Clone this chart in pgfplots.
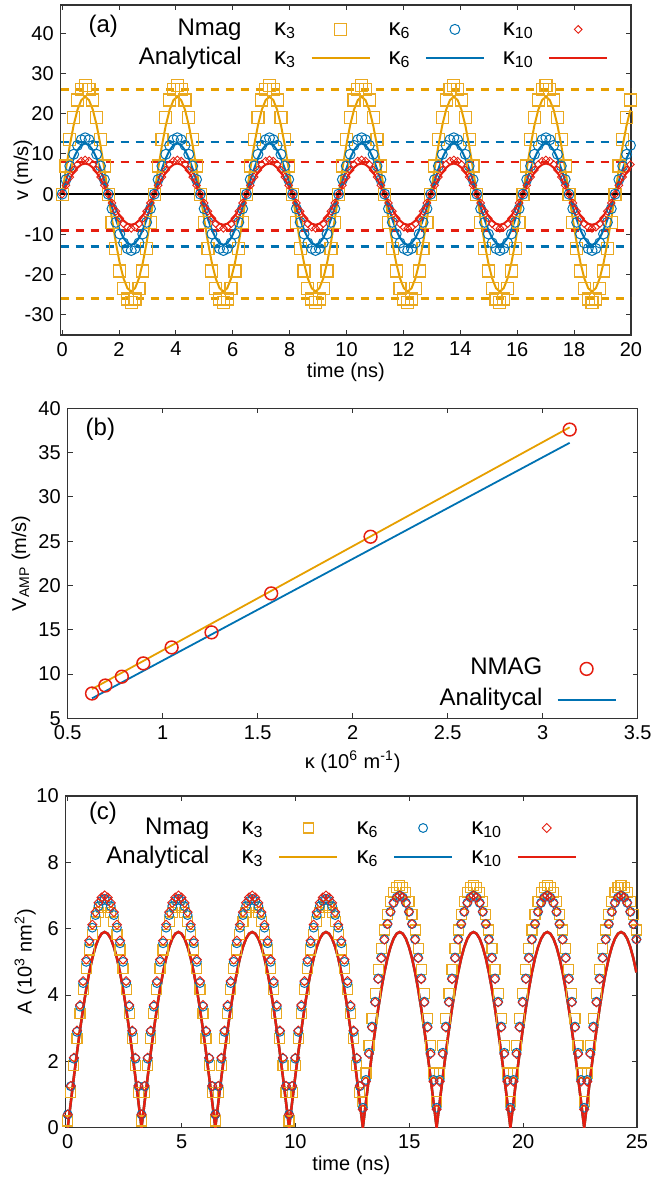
\documentclass[border=0pt]{standalone}
\usepackage{fontspec}
\setmainfont{Liberation Sans}
\usepackage{pgfplots}
\pgfplotsset{compat=1.18}
\usepackage{pgfplotstable}

\definecolor{gorange}{HTML}{E69F00}
\definecolor{gblue}{HTML}{0072B2}
\definecolor{gred}{HTML}{E51E10}
\definecolor{lorange}{HTML}{EAA920}

% panel (a): t, Nmag k3 k6 k10, analytical k3 k6 k10
\pgfplotstableread{
t m3 m6 m10 a3 a6 a10
0 0 0 0 0 0 0
0.135 6.99 3.62 2.2 6.26 3.26 1.97
0.27 13.5 7 4.25 12.1 6.3 3.8
0.405 19.09 9.9 6.01 17.11 8.91 5.37
0.54 23.38 12.12 7.36 20.96 10.91 6.58
0.675 26.08 13.52 8.21 23.37 12.17 7.34
0.81 27 14 8.5 24.2 12.6 7.6
0.945 26.08 13.52 8.21 23.37 12.17 7.34
1.08 23.38 12.12 7.36 20.96 10.91 6.58
1.215 19.09 9.9 6.01 17.11 8.91 5.37
1.35 13.5 7 4.25 12.1 6.3 3.8
1.485 6.99 3.62 2.2 6.26 3.26 1.97
1.62 0 0 0 0 0 0
1.755 -6.99 -3.62 -2.2 -6.26 -3.26 -1.97
1.89 -13.5 -7 -4.25 -12.1 -6.3 -3.8
2.025 -19.09 -9.9 -6.01 -17.11 -8.91 -5.37
2.16 -23.38 -12.12 -7.36 -20.96 -10.91 -6.58
2.295 -26.08 -13.52 -8.21 -23.37 -12.17 -7.34
2.43 -27 -14 -8.5 -24.2 -12.6 -7.6
2.565 -26.08 -13.52 -8.21 -23.37 -12.17 -7.34
2.7 -23.38 -12.12 -7.36 -20.96 -10.91 -6.58
2.835 -19.09 -9.9 -6.01 -17.11 -8.91 -5.37
2.97 -13.5 -7 -4.25 -12.1 -6.3 -3.8
3.105 -6.99 -3.62 -2.2 -6.26 -3.26 -1.97
3.24 0 0 0 0 0 0
3.375 6.99 3.62 2.2 6.26 3.26 1.97
3.51 13.5 7 4.25 12.1 6.3 3.8
3.645 19.09 9.9 6.01 17.11 8.91 5.37
3.78 23.38 12.12 7.36 20.96 10.91 6.58
3.915 26.08 13.52 8.21 23.37 12.17 7.34
4.05 27 14 8.5 24.2 12.6 7.6
4.185 26.08 13.52 8.21 23.37 12.17 7.34
4.32 23.38 12.12 7.36 20.96 10.91 6.58
4.455 19.09 9.9 6.01 17.11 8.91 5.37
4.59 13.5 7 4.25 12.1 6.3 3.8
4.725 6.99 3.62 2.2 6.26 3.26 1.97
4.86 0 0 0 0 0 0
4.995 -6.99 -3.62 -2.2 -6.26 -3.26 -1.97
5.13 -13.5 -7 -4.25 -12.1 -6.3 -3.8
5.265 -19.09 -9.9 -6.01 -17.11 -8.91 -5.37
5.4 -23.38 -12.12 -7.36 -20.96 -10.91 -6.58
5.535 -26.08 -13.52 -8.21 -23.37 -12.17 -7.34
5.67 -27 -14 -8.5 -24.2 -12.6 -7.6
5.805 -26.08 -13.52 -8.21 -23.37 -12.17 -7.34
5.94 -23.38 -12.12 -7.36 -20.96 -10.91 -6.58
6.075 -19.09 -9.9 -6.01 -17.11 -8.91 -5.37
6.21 -13.5 -7 -4.25 -12.1 -6.3 -3.8
6.345 -6.99 -3.62 -2.2 -6.26 -3.26 -1.97
6.48 0 0 0 0 0 0
6.615 6.99 3.62 2.2 6.26 3.26 1.97
6.75 13.5 7 4.25 12.1 6.3 3.8
6.885 19.09 9.9 6.01 17.11 8.91 5.37
7.02 23.38 12.12 7.36 20.96 10.91 6.58
7.155 26.08 13.52 8.21 23.37 12.17 7.34
7.29 27 14 8.5 24.2 12.6 7.6
7.425 26.08 13.52 8.21 23.37 12.17 7.34
7.56 23.38 12.12 7.36 20.96 10.91 6.58
7.695 19.09 9.9 6.01 17.11 8.91 5.37
7.83 13.5 7 4.25 12.1 6.3 3.8
7.965 6.99 3.62 2.2 6.26 3.26 1.97
8.1 0 0 0 0 0 0
8.235 -6.99 -3.62 -2.2 -6.26 -3.26 -1.97
8.37 -13.5 -7 -4.25 -12.1 -6.3 -3.8
8.505 -19.09 -9.9 -6.01 -17.11 -8.91 -5.37
8.64 -23.38 -12.12 -7.36 -20.96 -10.91 -6.58
8.775 -26.08 -13.52 -8.21 -23.37 -12.17 -7.34
8.91 -27 -14 -8.5 -24.2 -12.6 -7.6
9.045 -26.08 -13.52 -8.21 -23.37 -12.17 -7.34
9.18 -23.38 -12.12 -7.36 -20.96 -10.91 -6.58
9.315 -19.09 -9.9 -6.01 -17.11 -8.91 -5.37
9.45 -13.5 -7 -4.25 -12.1 -6.3 -3.8
9.585 -6.99 -3.62 -2.2 -6.26 -3.26 -1.97
9.72 0 0 0 0 0 0
9.855 6.99 3.62 2.2 6.26 3.26 1.97
9.99 13.5 7 4.25 12.1 6.3 3.8
10.125 19.09 9.9 6.01 17.11 8.91 5.37
10.26 23.38 12.12 7.36 20.96 10.91 6.58
10.395 26.08 13.52 8.21 23.37 12.17 7.34
10.53 27 14 8.5 24.2 12.6 7.6
10.665 26.08 13.52 8.21 23.37 12.17 7.34
10.8 23.38 12.12 7.36 20.96 10.91 6.58
10.935 19.09 9.9 6.01 17.11 8.91 5.37
11.07 13.5 7 4.25 12.1 6.3 3.8
11.205 6.99 3.62 2.2 6.26 3.26 1.97
11.34 0 0 0 0 0 0
11.475 -6.99 -3.62 -2.2 -6.26 -3.26 -1.97
11.61 -13.5 -7 -4.25 -12.1 -6.3 -3.8
11.745 -19.09 -9.9 -6.01 -17.11 -8.91 -5.37
11.88 -23.38 -12.12 -7.36 -20.96 -10.91 -6.58
12.015 -26.08 -13.52 -8.21 -23.37 -12.17 -7.34
12.15 -27 -14 -8.5 -24.2 -12.6 -7.6
12.285 -26.08 -13.52 -8.21 -23.37 -12.17 -7.34
12.42 -23.38 -12.12 -7.36 -20.96 -10.91 -6.58
12.555 -19.09 -9.9 -6.01 -17.11 -8.91 -5.37
12.69 -13.5 -7 -4.25 -12.1 -6.3 -3.8
12.825 -6.99 -3.62 -2.2 -6.26 -3.26 -1.97
12.96 0 0 0 0 0 0
13.095 6.99 3.62 2.2 6.26 3.26 1.97
13.23 13.5 7 4.25 12.1 6.3 3.8
13.365 19.09 9.9 6.01 17.11 8.91 5.37
13.5 23.38 12.12 7.36 20.96 10.91 6.58
13.635 26.08 13.52 8.21 23.37 12.17 7.34
13.77 27 14 8.5 24.2 12.6 7.6
13.905 26.08 13.52 8.21 23.37 12.17 7.34
14.04 23.38 12.12 7.36 20.96 10.91 6.58
14.175 19.09 9.9 6.01 17.11 8.91 5.37
14.31 13.5 7 4.25 12.1 6.3 3.8
14.445 6.99 3.62 2.2 6.26 3.26 1.97
14.58 0 0 0 0 0 0
14.715 -6.99 -3.62 -2.2 -6.26 -3.26 -1.97
14.85 -13.5 -7 -4.25 -12.1 -6.3 -3.8
14.985 -19.09 -9.9 -6.01 -17.11 -8.91 -5.37
15.12 -23.38 -12.12 -7.36 -20.96 -10.91 -6.58
15.255 -26.08 -13.52 -8.21 -23.37 -12.17 -7.34
15.39 -27 -14 -8.5 -24.2 -12.6 -7.6
15.525 -26.08 -13.52 -8.21 -23.37 -12.17 -7.34
15.66 -23.38 -12.12 -7.36 -20.96 -10.91 -6.58
15.795 -19.09 -9.9 -6.01 -17.11 -8.91 -5.37
15.93 -13.5 -7 -4.25 -12.1 -6.3 -3.8
16.065 -6.99 -3.62 -2.2 -6.26 -3.26 -1.97
16.2 0 0 0 0 0 0
16.335 6.99 3.62 2.2 6.26 3.26 1.97
16.47 13.5 7 4.25 12.1 6.3 3.8
16.605 19.09 9.9 6.01 17.11 8.91 5.37
16.74 23.38 12.12 7.36 20.96 10.91 6.58
16.875 26.08 13.52 8.21 23.37 12.17 7.34
17.01 27 14 8.5 24.2 12.6 7.6
17.145 26.08 13.52 8.21 23.37 12.17 7.34
17.28 23.38 12.12 7.36 20.96 10.91 6.58
17.415 19.09 9.9 6.01 17.11 8.91 5.37
17.55 13.5 7 4.25 12.1 6.3 3.8
17.685 6.99 3.62 2.2 6.26 3.26 1.97
17.82 0 0 0 0 0 0
17.955 -6.99 -3.62 -2.2 -6.26 -3.26 -1.97
18.09 -13.5 -7 -4.25 -12.1 -6.3 -3.8
18.225 -19.09 -9.9 -6.01 -17.11 -8.91 -5.37
18.36 -23.38 -12.12 -7.36 -20.96 -10.91 -6.58
18.495 -26.08 -13.52 -8.21 -23.37 -12.17 -7.34
18.63 -27 -14 -8.5 -24.2 -12.6 -7.6
18.765 -26.08 -13.52 -8.21 -23.37 -12.17 -7.34
18.9 -23.38 -12.12 -7.36 -20.96 -10.91 -6.58
19.035 -19.09 -9.9 -6.01 -17.11 -8.91 -5.37
19.17 -13.5 -7 -4.25 -12.1 -6.3 -3.8
19.305 -6.99 -3.62 -2.2 -6.26 -3.26 -1.97
19.44 0 0 0 0 0 0
19.575 6.99 3.62 2.2 6.26 3.26 1.97
19.71 13.5 7 4.25 12.1 6.3 3.8
19.845 19.09 9.9 6.01 17.11 8.91 5.37
19.98 23.38 12.12 7.36 20.96 10.91 6.58
}\tabA

% panel (c): t, Nmag k3 k6 k10, analytical
\pgfplotstableread{
t c3 c6 c10 an
0 0.2 0.4 0.4 0
0.135 1.05 1.25 1.26 0.77
0.27 1.88 2.08 2.11 1.53
0.405 2.69 2.89 2.93 2.26
0.54 3.45 3.65 3.7 2.95
0.675 4.16 4.36 4.42 3.59
0.81 4.8 5 5.07 4.17
0.945 5.36 5.56 5.64 4.68
1.08 5.83 6.03 6.12 5.11
1.215 6.21 6.41 6.5 5.45
1.35 6.48 6.68 6.78 5.7
1.485 6.64 6.84 6.94 5.85
1.62 6.7 6.9 7 5.9
1.755 6.64 6.84 6.94 5.85
1.89 6.48 6.68 6.78 5.7
2.025 6.21 6.41 6.5 5.45
2.16 5.83 6.03 6.12 5.11
2.295 5.36 5.56 5.64 4.68
2.43 4.8 5 5.07 4.17
2.565 4.16 4.36 4.42 3.59
2.7 3.45 3.65 3.7 2.95
2.835 2.69 2.89 2.93 2.26
2.97 1.88 2.08 2.11 1.53
3.105 1.05 1.25 1.26 0.77
3.24 0.2 0.4 0.4 0
3.375 1.05 1.25 1.26 0.77
3.51 1.88 2.08 2.11 1.53
3.645 2.69 2.89 2.93 2.26
3.78 3.45 3.65 3.7 2.95
3.915 4.16 4.36 4.42 3.59
4.05 4.8 5 5.07 4.17
4.185 5.36 5.56 5.64 4.68
4.32 5.83 6.03 6.12 5.11
4.455 6.21 6.41 6.5 5.45
4.59 6.48 6.68 6.78 5.7
4.725 6.64 6.84 6.94 5.85
4.86 6.7 6.9 7 5.9
4.995 6.64 6.84 6.94 5.85
5.13 6.48 6.68 6.78 5.7
5.265 6.21 6.41 6.5 5.45
5.4 5.83 6.03 6.12 5.11
5.535 5.36 5.56 5.64 4.68
5.67 4.8 5 5.07 4.17
5.805 4.16 4.36 4.42 3.59
5.94 3.45 3.65 3.7 2.95
6.075 2.69 2.89 2.93 2.26
6.21 1.88 2.08 2.11 1.53
6.345 1.05 1.25 1.26 0.77
6.48 0.2 0.4 0.4 0
6.615 1.05 1.25 1.26 0.77
6.75 1.88 2.08 2.11 1.53
6.885 2.69 2.89 2.93 2.26
7.02 3.45 3.65 3.7 2.95
7.155 4.16 4.36 4.42 3.59
7.29 4.8 5 5.07 4.17
7.425 5.36 5.56 5.64 4.68
7.56 5.83 6.03 6.12 5.11
7.695 6.21 6.41 6.5 5.45
7.83 6.48 6.68 6.78 5.7
7.965 6.64 6.84 6.94 5.85
8.1 6.7 6.9 7 5.9
8.235 6.64 6.84 6.94 5.85
8.37 6.48 6.68 6.78 5.7
8.505 6.21 6.41 6.5 5.45
8.64 5.83 6.03 6.12 5.11
8.775 5.36 5.56 5.64 4.68
8.91 4.8 5 5.07 4.17
9.045 4.16 4.36 4.42 3.59
9.18 3.45 3.65 3.7 2.95
9.315 2.69 2.89 2.93 2.26
9.45 1.88 2.08 2.11 1.53
9.585 1.05 1.25 1.26 0.77
9.72 0.2 0.4 0.4 0
9.855 1.05 1.25 1.26 0.77
9.99 1.88 2.08 2.11 1.53
10.125 2.69 2.89 2.93 2.26
10.26 3.45 3.65 3.7 2.95
10.395 4.16 4.36 4.42 3.59
10.53 4.8 5 5.07 4.17
10.665 5.36 5.56 5.64 4.68
10.8 5.83 6.03 6.12 5.11
10.935 6.21 6.41 6.5 5.45
11.07 6.48 6.68 6.78 5.7
11.205 6.64 6.84 6.94 5.85
11.34 6.7 6.9 7 5.9
11.475 6.64 6.84 6.94 5.85
11.61 6.48 6.68 6.78 5.7
11.745 6.21 6.41 6.5 5.45
11.88 5.83 6.03 6.12 5.11
12.015 5.36 5.56 5.64 4.68
12.15 4.8 5 5.07 4.17
12.285 4.16 4.36 4.42 3.59
12.42 3.45 3.65 3.7 2.95
12.555 2.69 2.89 2.93 2.26
12.69 1.88 2.08 2.11 1.53
12.825 1.05 1.25 1.26 0.77
12.96 0.8 0.6 0.55 0
13.095 1.65 1.44 1.39 0.77
13.23 2.48 2.26 2.22 1.53
13.365 3.29 3.05 3.02 2.26
13.5 4.05 3.8 3.78 2.95
13.635 4.76 4.5 4.48 3.59
13.77 5.4 5.13 5.11 4.17
13.905 5.96 5.68 5.67 4.68
14.04 6.43 6.14 6.14 5.11
14.175 6.81 6.51 6.51 5.45
14.31 7.08 6.78 6.78 5.7
14.445 7.24 6.94 6.94 5.85
14.58 7.3 7 7 5.9
14.715 7.24 6.94 6.94 5.85
14.85 7.08 6.78 6.78 5.7
14.985 6.81 6.51 6.51 5.45
15.12 6.43 6.14 6.14 5.11
15.255 5.96 5.68 5.67 4.68
15.39 5.4 5.13 5.11 4.17
15.525 4.76 4.5 4.48 3.59
15.66 4.05 3.8 3.78 2.95
15.795 3.29 3.05 3.02 2.26
15.93 2.48 2.26 2.22 1.53
16.065 1.65 1.44 1.39 0.77
16.2 0.8 0.6 0.55 0
16.335 1.65 1.44 1.39 0.77
16.47 2.48 2.26 2.22 1.53
16.605 3.29 3.05 3.02 2.26
16.74 4.05 3.8 3.78 2.95
16.875 4.76 4.5 4.48 3.59
17.01 5.4 5.13 5.11 4.17
17.145 5.96 5.68 5.67 4.68
17.28 6.43 6.14 6.14 5.11
17.415 6.81 6.51 6.51 5.45
17.55 7.08 6.78 6.78 5.7
17.685 7.24 6.94 6.94 5.85
17.82 7.3 7 7 5.9
17.955 7.24 6.94 6.94 5.85
18.09 7.08 6.78 6.78 5.7
18.225 6.81 6.51 6.51 5.45
18.36 6.43 6.14 6.14 5.11
18.495 5.96 5.68 5.67 4.68
18.63 5.4 5.13 5.11 4.17
18.765 4.76 4.5 4.48 3.59
18.9 4.05 3.8 3.78 2.95
19.035 3.29 3.05 3.02 2.26
19.17 2.48 2.26 2.22 1.53
19.305 1.65 1.44 1.39 0.77
19.44 0.8 0.6 0.55 0
19.575 1.65 1.44 1.39 0.77
19.71 2.48 2.26 2.22 1.53
19.845 3.29 3.05 3.02 2.26
19.98 4.05 3.8 3.78 2.95
20.115 4.76 4.5 4.48 3.59
20.25 5.4 5.13 5.11 4.17
20.385 5.96 5.68 5.67 4.68
20.52 6.43 6.14 6.14 5.11
20.655 6.81 6.51 6.51 5.45
20.79 7.08 6.78 6.78 5.7
20.925 7.24 6.94 6.94 5.85
21.06 7.3 7 7 5.9
21.195 7.24 6.94 6.94 5.85
21.33 7.08 6.78 6.78 5.7
21.465 6.81 6.51 6.51 5.45
21.6 6.43 6.14 6.14 5.11
21.735 5.96 5.68 5.67 4.68
21.87 5.4 5.13 5.11 4.17
22.005 4.76 4.5 4.48 3.59
22.14 4.05 3.8 3.78 2.95
22.275 3.29 3.05 3.02 2.26
22.41 2.48 2.26 2.22 1.53
22.545 1.65 1.44 1.39 0.77
22.68 0.8 0.6 0.55 0
22.815 1.65 1.44 1.39 0.77
22.95 2.48 2.26 2.22 1.53
23.085 3.29 3.05 3.02 2.26
23.22 4.05 3.8 3.78 2.95
23.355 4.76 4.5 4.48 3.59
23.49 5.4 5.13 5.11 4.17
23.625 5.96 5.68 5.67 4.68
23.76 6.43 6.14 6.14 5.11
23.895 6.81 6.51 6.51 5.45
24.03 7.08 6.78 6.78 5.7
24.165 7.24 6.94 6.94 5.85
24.3 7.3 7 7 5.9
24.435 7.24 6.94 6.94 5.85
24.57 7.08 6.78 6.78 5.7
24.705 6.81 6.51 6.51 5.45
24.84 6.43 6.14 6.14 5.11
24.975 5.96 5.68 5.67 4.68
}\tabC

\pgfplotsset{
  gp/.style={
    scale only axis, anchor=south west,
    axis line style={black!80, line width=0.6pt},
    tick style={black!80, line width=0.5pt},
    major tick length=2.5pt,
    tick align=inside, tick pos=both,
    ticklabel style={font=\fontsize{10}{12}\selectfont},
    label style={font=\fontsize{10}{12}\selectfont},
    /pgf/number format/assume math mode=true,
    legend plot pos=right,
    legend image code/.code={\draw[mark repeat=2,mark phase=2,##1] plot coordinates {(0pt,0pt) (14.5pt,0pt) (29pt,0pt)};},
  },
  kleg/.style={
    legend columns=4, legend cell align=right,
    legend style={draw=none, fill=none, inner xsep=0pt, inner ysep=0pt,
      font=\fontsize{12}{14}\selectfont,
      nodes={inner sep=0pt, text height=9pt, text depth=3pt},
      row sep=2.5pt,
      /tikz/every odd column/.append style={column sep=7.25pt},
      /tikz/every even column/.append style={column sep=9pt},
      /tikz/column 2/.append style={column sep=11pt}},
  },
  dashamp/.style={forget plot, line width=1.3pt, dash pattern=on 4pt off 3.5pt},
  sqmark/.style={only marks, mark=square, lorange, line width=0.6pt, mark options={draw=lorange, fill=none}},
}

\begin{document}
\begin{tikzpicture}[font=\fontsize{10}{12}\selectfont]
\path[use as bounding box] (0,0) rectangle (328pt,590pt);

% ---------------- (a)
\begin{axis}[gp, at={(30.35pt,422.5pt)}, width=285.15pt, height=165pt,
  xmin=-0.05, xmax=20, ymin=-35, ymax=47,
  xtick={0,2,...,20}, ytick={-30,-20,...,40},
  xlabel={time (ns)}, ylabel={v (m/s)},
  xlabel style={at={(axis description cs:0.5,-0.114)}, anchor=center},
  ylabel style={at={(axis description cs:-0.066,0.5)}, anchor=center},
  kleg, legend style={at={(1,1)}, anchor=north east, xshift=-11.2pt, yshift=-6pt}]
\addlegendimage{empty legend}
\addlegendimage{sqmark, mark size=3pt}
\addlegendimage{only marks, mark=o, mark size=2.5pt, gblue, line width=0.5pt}
\addlegendimage{only marks, mark=square, mark size=1.35pt, mark options={rotate=45}, gred, line width=0.45pt}
\addlegendimage{empty legend}
\addlegendimage{gorange, line width=1pt}
\addlegendimage{gblue, line width=1pt}
\addlegendimage{gred, line width=1pt}
\addplot[dashamp, gorange] coordinates {(-0.05,26) (20,26)};
\addplot[dashamp, gorange] coordinates {(-0.05,-26) (20,-26)};
\addplot[dashamp, gblue] coordinates {(-0.05,13) (20,13)};
\addplot[dashamp, gblue] coordinates {(-0.05,-13) (20,-13)};
\addplot[dashamp, gred] coordinates {(-0.05,8) (20,8)};
\addplot[dashamp, gred] coordinates {(-0.05,-9) (20,-9)};
\addplot[forget plot, sqmark, mark size=3pt] table[x=t, y=m3] {\tabA};
\addplot[forget plot, only marks, mark=o, mark size=2.5pt, gblue, line width=0.5pt] table[x=t, y=m6] {\tabA};
\addplot[forget plot, only marks, mark=square, mark size=1.35pt, mark options={rotate=45}, gred, line width=0.45pt] table[x=t, y=m10] {\tabA};
\addplot[forget plot, gorange, line width=1pt] table[x=t, y=a3] {\tabA};
\addplot[forget plot, gblue, line width=1pt] table[x=t, y=a6] {\tabA};
\addplot[forget plot, gred, line width=1pt] table[x=t, y=a10] {\tabA};
\addplot[forget plot, black, line width=1.1pt] coordinates {(-0.05,0) (20,0)};
\legend{Nmag, κ\textsubscript{3}, κ\textsubscript{6}, κ\textsubscript{10}, Analytical, κ\textsubscript{3}, κ\textsubscript{6}, κ\textsubscript{10}}
\node[font=\fontsize{12}{14}\selectfont] at ([xshift=21.3pt, yshift=-10.85pt]rel axis cs:0,1) {(a)};
\node[gred, rotate=-90] at ([xshift=5pt]axis cs:20,6.7) {V\textsubscript{AMP10}};
\node[gblue, rotate=-90] at ([xshift=5pt]axis cs:20,-15) {V\textsubscript{AMP6}};
\node[gorange, rotate=-90] at ([xshift=5pt]axis cs:20,-27.9) {V\textsubscript{AMP3}};
\end{axis}

% ---------------- (b)
\begin{axis}[gp, at={(33.85pt,230.85pt)}, width=285pt, height=155pt,
  xmin=0.5, xmax=3.5, ymin=5, ymax=40,
  xtick={0.5,1,...,3.5}, ytick={5,10,...,40},
  xlabel={κ (10\textsuperscript{6} m\textsuperscript{-1})}, ylabel={V\textsubscript{AMP} (m/s)},
  xlabel style={at={(axis description cs:0.5,-0.14)}, anchor=center},
  ylabel style={at={(axis description cs:-0.082,0.5)}, anchor=center},
  legend columns=1, legend cell align=right,
  legend style={draw=none, fill=none, inner xsep=0pt, inner ysep=0pt,
    font=\fontsize{12}{14}\selectfont,
    nodes={inner sep=0pt, text height=9pt, text depth=3pt},
    row sep=3.5pt,
    /tikz/every odd column/.append style={column sep=7.15pt},
    at={(1,0)}, anchor=south east, xshift=-10.4pt, yshift=3pt}]
\addlegendimage{only marks, mark=o, mark size=3.2pt, gred, line width=0.75pt}
\addlegendimage{gblue, line width=0.9pt}
\addplot[forget plot, only marks, mark=o, mark size=3.2pt, gred, line width=0.75pt] coordinates {
(0.628,7.8) (0.698,8.7) (0.785,9.7) (0.898,11.2) (1.047,13.0) (1.257,14.7) (1.571,19.1) (2.094,25.5) (3.142,37.6)};
\addplot[forget plot, gorange, line width=0.9pt] coordinates {(0.628,8.3) (3.142,37.85)};
\addplot[forget plot, gblue, line width=0.9pt] coordinates {(0.628,7.25) (3.142,36.1)};
\legend{NMAG, Analitycal}
\node[font=\fontsize{12}{14}\selectfont] at ([xshift=16.35pt, yshift=-10.5pt]rel axis cs:0,1) {(b)};
\end{axis}

% ---------------- (c)
\begin{axis}[gp, at={(32.85pt,26.15pt)}, width=285.65pt, height=165.85pt,
  xmin=-0.09, xmax=25, ymin=0, ymax=10,
  xtick={0,5,...,25}, ytick={0,2,...,10},
  xlabel={time (ns)}, ylabel={A (10\textsuperscript{3} nm\textsuperscript{2})},
  xlabel style={at={(axis description cs:0.5,-0.1125)}, anchor=center},
  ylabel style={at={(axis description cs:-0.071,0.5)}, anchor=center},
  kleg, legend style={at={(1,1)}, anchor=north east, xshift=-29.8pt, yshift=-9.8pt}]
\addlegendimage{empty legend}
\addlegendimage{sqmark, mark size=2.5pt}
\addlegendimage{only marks, mark=o, mark size=2.2pt, gblue, line width=0.5pt}
\addlegendimage{only marks, mark=square, mark size=1.6pt, mark options={rotate=45}, gred, line width=0.45pt}
\addlegendimage{empty legend}
\addlegendimage{gorange, line width=1.2pt}
\addlegendimage{gblue, line width=1.2pt}
\addlegendimage{gred, line width=1.2pt}
\addplot[forget plot, sqmark, mark size=2.5pt] table[x=t, y=c3] {\tabC};
\addplot[forget plot, only marks, mark=o, mark size=2.2pt, gblue, line width=0.5pt] table[x=t, y=c6] {\tabC};
\addplot[forget plot, only marks, mark=square, mark size=1.6pt, mark options={rotate=45}, gred, line width=0.45pt] table[x=t, y=c10] {\tabC};
\addplot[forget plot, gorange, line width=1.2pt] table[x=t, y=an] {\tabC};
\addplot[forget plot, gblue, line width=1.2pt] table[x=t, y=an] {\tabC};
\addplot[forget plot, gred, line width=1.2pt] table[x=t, y=an] {\tabC};
\legend{Nmag, κ\textsubscript{3}, κ\textsubscript{6}, κ\textsubscript{10}, Analytical, κ\textsubscript{3}, κ\textsubscript{6}, κ\textsubscript{10}}
\node[font=\fontsize{12}{14}\selectfont] at ([xshift=18.65pt, yshift=-8.5pt]rel axis cs:0,1) {(c)};
\end{axis}
\end{tikzpicture}
\end{document}
